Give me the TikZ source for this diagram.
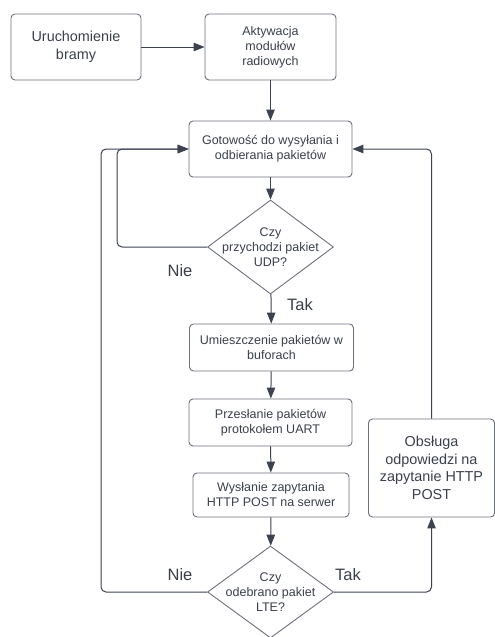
\documentclass[tikz,border=0pt]{standalone}
\usepackage{fontspec}
\setmainfont{Liberation Sans}
\usetikzlibrary{arrows.meta,shapes.geometric}

\definecolor{linegray}{HTML}{3C4250}
\definecolor{boxgray}{HTML}{6B707A}
\definecolor{textgray}{HTML}{3A3F4A}

\begin{document}
\begin{tikzpicture}[
  x=1pt,y=-1pt,
  >={Triangle[length=11pt,width=8.5pt]},
  proc/.style={draw=boxgray,line width=0.9pt,rounded corners=4pt,
    align=center,inner sep=0pt,text=textgray,
    font=\fontsize{12.5}{15}\selectfont},
  bigproc/.style={proc,font=\fontsize{14.4}{17.6}\selectfont},
  decision/.style={draw=boxgray,line width=0.9pt,diamond,inner sep=0pt,
    minimum width=126pt,minimum height=94pt},
  dtext/.style={align=center,text=textgray,inner sep=0pt,
    font=\fontsize{12.5}{15}\selectfont},
  answer/.style={text=textgray,inner sep=0pt,
    font=\fontsize{16.5}{20}\selectfont},
  flow/.style={draw=linegray,line width=1pt,->,rounded corners=5pt}
]
\useasboundingbox (0,0) rectangle (495,637);

\node[bigproc,minimum width=130pt,minimum height=66pt] (start) at (76,47)
 {Uruchomienie\\bramy};
\node[proc,minimum width=131pt,minimum height=66pt] (radio) at (270.5,47)
 {Aktywacja\\modułów\\radiowych};
\node[proc,minimum width=163pt,minimum height=56pt] (ready) at (270.5,149)
 {Gotowość do wysyłania i\\odbierania pakietów};

\node[decision] (udp) at (270.5,247) {};
\node[dtext] (udptext) at (udp) {Czy\\przychodzi pakiet\\UDP?};

\node[proc,minimum width=164pt,minimum height=47pt] (buf) at (271.5,347.5)
 {Umieszczenie pakietów w\\buforach};
\node[proc,minimum width=163pt,minimum height=47pt] (uart) at (270.5,422.5)
 {Przesłanie pakietów\\protokołem UART};
\node[proc,minimum width=156pt,minimum height=44pt] (http) at (271,495)
 {Wysłanie zapytania\\HTTP POST na serwer};

\node[decision,minimum height=92pt] (lte) at (270.5,592) {};
\node[dtext] (ltetext) at (lte) {Czy\\odebrano pakiet\\LTE?};

\node[bigproc,minimum width=126pt,minimum height=98pt] (resp) at (431.5,468)
 {Obsługa\\odpowiedzi na\\zapytanie HTTP\\POST};

\node[answer] (nie1) at (180,271) {Nie};
\node[answer] (tak1) at (300,305) {Tak};
\node[answer] (nie2) at (180,575) {Nie};
\node[answer] (tak2) at (348,575) {Tak};

\draw[flow] (start) -- (radio);
\draw[flow] (radio) -- (ready);
\draw[flow] (ready) -- (udp);
\draw[flow] (udp) -- (buf);
\draw[flow] (buf) -- (uart);
\draw[flow] (uart) -- (http);
\draw[flow] (http) -- (lte);
\draw[flow] (udp.west) -- (117,247) |- (ready.west);
\draw[flow] (lte.west) -- (101,592) |- (ready.west);
\draw[flow] (lte.east) -| (resp.south);
\draw[flow] (resp.north) |- (ready.east);
\end{tikzpicture}
\end{document}
